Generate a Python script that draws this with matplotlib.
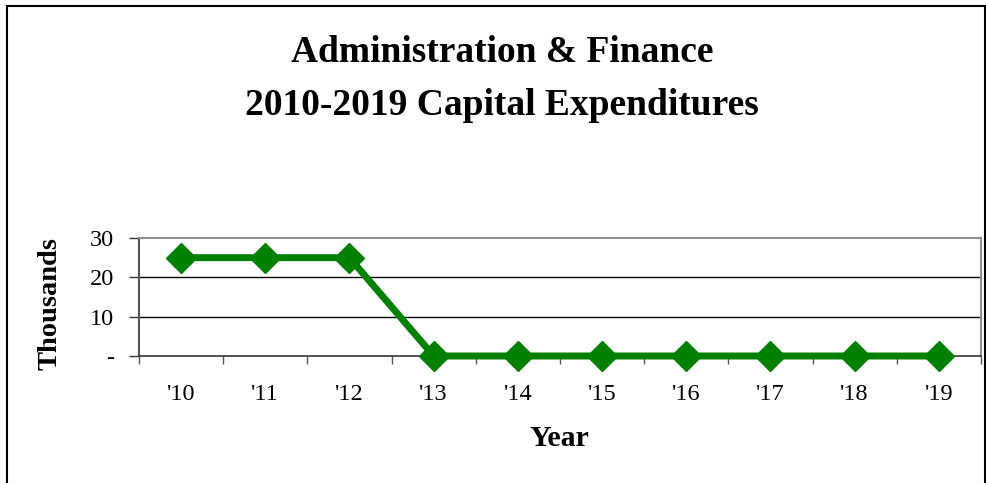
import matplotlib.pyplot as plt
from matplotlib.patches import Rectangle

years = ["'10", "'11", "'12", "'13", "'14", "'15", "'16", "'17", "'18", "'19"]
spending = [25, 25, 25, 0, 0, 0, 0, 0, 0, 0]  # thousands
yticks = [0, 10, 20, 30]
ytick_labels = ['-', '10', '20', '30']

plt.rcParams['font.family'] = 'Liberation Serif'

W, H = 987, 483
fig = plt.figure(figsize=(W / 100, H / 100), dpi=100)

# outer frame of the chart
fig.patches.append(Rectangle((7 / W, -0.01), (985 - 7) / W, (H - 6) / H + 0.01,
                             transform=fig.transFigure, fill=False,
                             edgecolor='black', linewidth=1.5))

left, right, top, bottom = 139, 981, 238, 356
ax = fig.add_axes([left / W, 1 - bottom / H, (right - left) / W, (bottom - top) / H])

x = range(len(years))
ax.plot(x, spending, color='#008000', linewidth=5, marker='D',
        markersize=15, zorder=3, clip_on=False)

ax.set_xlim(-0.5, len(years) - 0.5)
ax.set_ylim(0, 30)
ax.set_yticks(yticks)
ax.set_yticklabels(ytick_labels, fontsize=17.5)
for v in yticks[1:3]:
    ax.axhline(v, color='black', linewidth=1, zorder=1)

ax.set_xticks(x)
ax.set_xticklabels(years, fontsize=17.5)
ax.set_xticks([i - 0.5 for i in range(len(years) + 1)], minor=True)
ax.tick_params(axis='x', which='major', length=0, pad=20)
ax.tick_params(axis='x', which='minor', length=6, width=1, color='#555555')
ax.tick_params(axis='y', length=7, width=1, color='#333333', pad=11)

for side in ['top', 'right']:
    ax.spines[side].set_color('#909090')
    ax.spines[side].set_linewidth(1.5)
ax.spines['left'].set_color('#555555')
ax.spines['left'].set_linewidth(1.5)
ax.spines['bottom'].set_color('#333333')
ax.spines['bottom'].set_linewidth(1.2)

fig.text(502 / W, 1 - 79 / H, 'Administration & Finance\n2010-2019 Capital Expenditures',
         ha='center', va='center', fontsize=27, fontweight='bold', linespacing=1.65)
fig.text(50 / W, 1 - 303 / H, 'Thousands', rotation=90, ha='center', va='center',
         fontsize=20.5, fontweight='bold')
fig.text(559 / W, 1 - 438 / H, 'Year', ha='center', va='center',
         fontsize=21.5, fontweight='bold')

fig.savefig('out.png', dpi=100)
